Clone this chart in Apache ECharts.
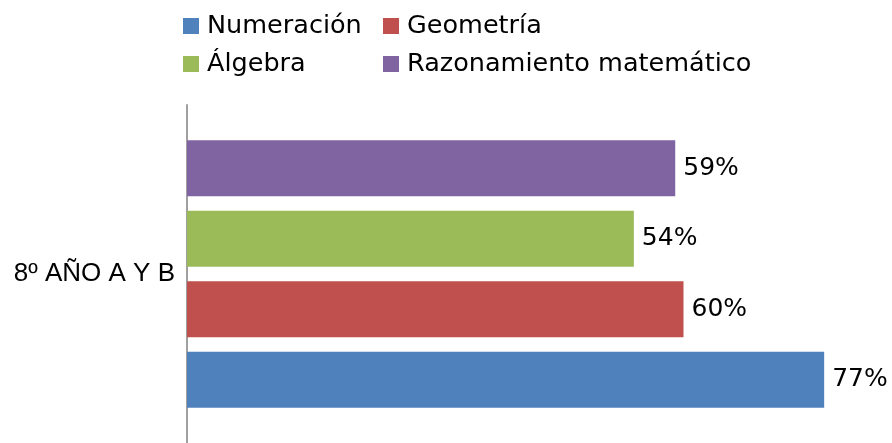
<!DOCTYPE html>
<html>
<head>
<meta charset="utf-8">
<script src="https://cdn.jsdelivr.net/npm/echarts@6/dist/echarts.min.js"></script>
<style>
    html, body { margin: 0; padding: 0; background: #fff; }
    #chart { width: 892px; height: 443px; }
</style>
</head>
<body>
<div id="chart"></div>
<script>
var categories = ['8º AÑO A Y B']
var seriesNames = ['Numeración', 'Geometría', 'Álgebra', 'Razonamiento matemático']
var seriesColors = ['#4f81bd', '#c0504d', '#9bbb59', '#8064a2']
var numeracion = [77]
var geometria = [60]
var algebra = [54]
var razonamiento = [59]
var seriesValues = [numeracion, geometria, algebra, razonamiento]

var font = 'DejaVu Sans'
var chart = echarts.init(document.getElementById('chart'))

// legend laid out as a 2x2 grid, one legend per item
var legendPos = [
    { left: 183, top: 13 },
    { left: 383, top: 13 },
    { left: 183, top: 51 },
    { left: 383, top: 51 }
]
var legends = seriesNames.map(function (name, i) {
    return {
        data: [name],
        left: legendPos[i].left,
        top: legendPos[i].top,
        padding: 0,
        itemWidth: 16,
        itemHeight: 16,
        itemGap: 0,
        icon: 'rect',
        selectedMode: false,
        textStyle: { fontFamily: font, fontSize: 25.5, color: '#000', padding: [0, 0, 0, 3] }
    }
})

var series = seriesNames.map(function (name, i) {
    return {
        name: name,
        type: 'bar',
        data: seriesValues[i],
        barWidth: 56,
        barGap: '26%',
        itemStyle: { color: seriesColors[i] },
        label: {
            show: true,
            position: 'right',
            distance: 8,
            formatter: '{c}%',
            fontFamily: font,
            fontSize: 25,
            color: '#000'
        }
    }
}).reverse() // first series drawn at the bottom, like the original

var option = {
    animation: false,
    legend: legends,
    grid: { left: 187, top: 105, width: 662, bottom: 0 },
    xAxis: {
        type: 'value',
        min: 0,
        max: 80,
        show: false
    },
    yAxis: {
        type: 'category',
        data: categories,
        axisLine: { lineStyle: { color: '#a0a0a0', width: 2 } },
        axisTick: { show: false },
        axisLabel: { fontFamily: 'Liberation Sans', fontSize: 26, color: '#000', margin: 12 }
    },
    series: series
}
chart.setOption(option)
</script>
</body>
</html>
